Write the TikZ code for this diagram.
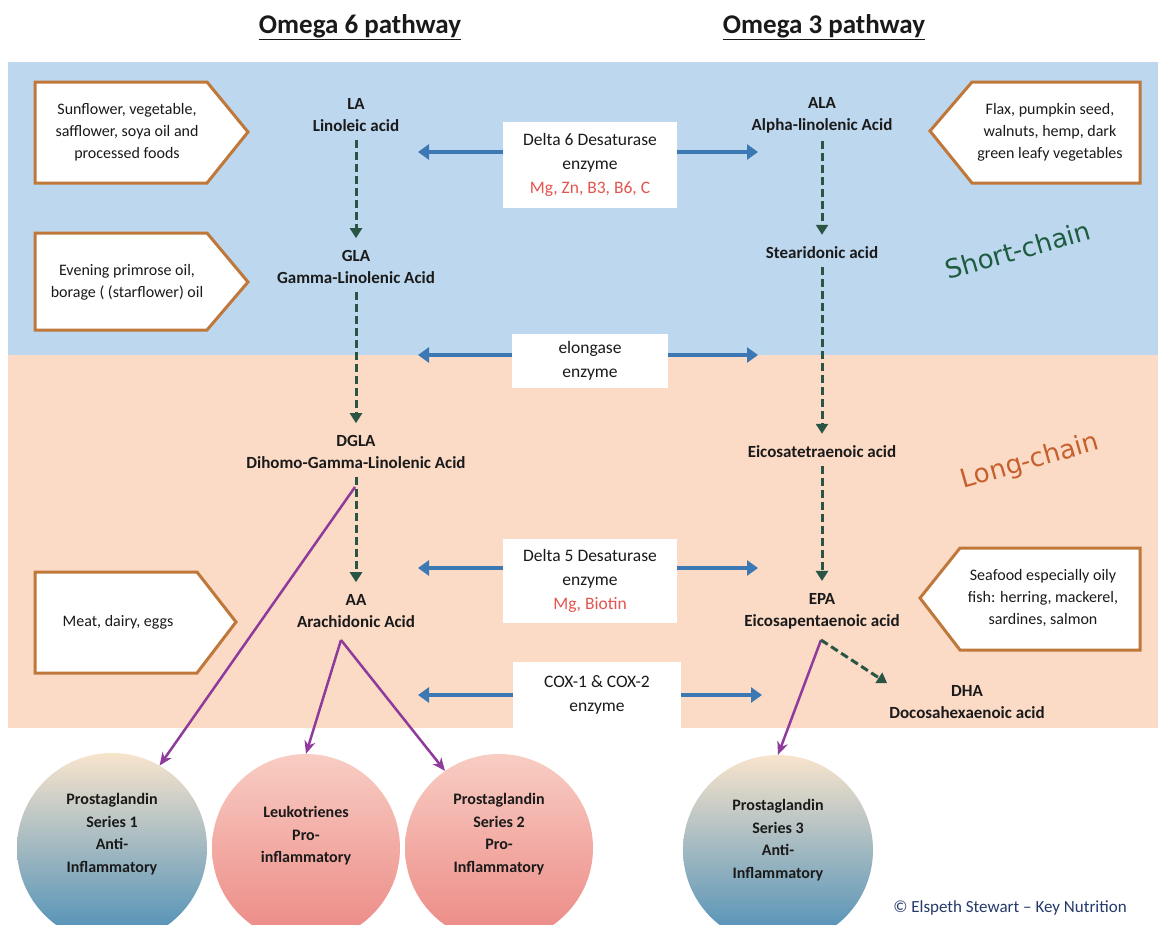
\documentclass[tikz,border=0pt]{standalone}
\usepackage{fontspec}
\setmainfont{Carlito}
\newfontfamily\chainfont{DejaVu Sans}
\usetikzlibrary{arrows.meta}
\definecolor{bandblue}{HTML}{BDD7EE}
\definecolor{bandpink}{HTML}{FBDAC6}
\definecolor{boxbrown}{HTML}{C0783A}
\definecolor{arrblue}{HTML}{3B78B4}
\definecolor{dashgreen}{HTML}{2A5545}
\definecolor{purp}{HTML}{8E3B9C}
\definecolor{cofred}{HTML}{E5544E}
\definecolor{circblue}{HTML}{4A8DB6}
\definecolor{circcream}{HTML}{F8E4CC}
\definecolor{circpinkT}{HTML}{F8CDC3}
\definecolor{circpinkB}{HTML}{EC8884}
\definecolor{chaingreen}{HTML}{1E5C40}
\definecolor{chainorange}{HTML}{C6602C}
\definecolor{copyblue}{HTML}{253A6B}
\definecolor{txt}{HTML}{1A1A1A}
\tikzset{
  acid/.style={font=\bfseries\fontsize{17}{22}\selectfont, align=center, inner sep=2pt, text=txt},
  srcbox/.style={draw=boxbrown, line width=3pt, fill=white, line join=miter},
  srctext/.style={font=\fontsize{16}{22}\selectfont, align=center, text=txt},
  enzbox/.style={fill=white, align=center, font=\fontsize{17.5}{24}\selectfont, text=txt},
  enzarrow/.style={draw=arrblue, line width=4pt, -{Triangle[length=11pt,width=15pt]}},
  convarrow/.style={draw=dashgreen, line width=3pt, dash pattern=on 8pt off 4pt, -{Triangle[length=10pt,width=12pt]}},
  purparrow/.style={draw=purp, line width=2.5pt, -{Stealth[length=13pt,width=11pt]}},
  bluecirc/.style={circle, minimum size=190pt, top color=circcream, bottom color=circblue},
  pinkcirc/.style={circle, minimum size=188pt, top color=circpinkT, bottom color=circpinkB},
  circtext/.style={align=center, font=\bfseries\fontsize{16}{22.5}\selectfont, text=txt},
  titletext/.style={font=\bfseries\fontsize{27}{32}\selectfont, text=txt},
  chain/.style={font=\chainfont\fontsize{26}{28}\selectfont, rotate=16}
}
\begin{document}
\begin{tikzpicture}[x=1pt,y=-1pt]
\useasboundingbox (0,0) rectangle (1158,924);
\fill[white] (0,0) rectangle (1158,924);
% bands
\fill[bandblue] (8,62) rectangle (1158,355);
\fill[bandpink] (8,355) rectangle (1158,728);
% titles
\node[titletext] (t6) at (360,27) {\underline{Omega 6 pathway}};
\node[titletext] (t3) at (824,27) {\underline{Omega 3 pathway}};
% source boxes
\draw[srcbox] (35,82) -- (207,82) -- (248,132) -- (207,183) -- (35,183) -- cycle;
\node[srctext] (s1) at (127,132) {Sunflower, vegetable,\\safflower, soya oil and\\processed foods};
\draw[srcbox] (35,233) -- (207,233) -- (248,282) -- (207,330) -- (35,330) -- cycle;
\node[srctext] (s2) at (127,282) {Evening primrose oil,\\borage ( (starflower) oil};
\draw[srcbox] (35,572) -- (197,572) -- (236,622) -- (197,673) -- (35,673) -- cycle;
\node[srctext] (s3) at (118,622) {Meat, dairy, eggs};
\draw[srcbox] (930,131) -- (972,82) -- (1140,82) -- (1140,183) -- (972,183) -- cycle;
\node[srctext] (s4) at (1050,132) {Flax, pumpkin seed,\\walnuts, hemp, dark\\green leafy vegetables};
\draw[srcbox] (920,598) -- (960,548) -- (1140,548) -- (1140,650) -- (960,650) -- cycle;
\node[srctext] (s5) at (1043,598) {Seafood especially oily\\fish: herring, mackerel,\\sardines, salmon};
% acids
\node[acid] (LA) at (356,115) {LA\\Linoleic acid};
\node[acid] (GLA) at (356,267) {GLA\\Gamma-Linolenic Acid};
\node[acid] (DGLA) at (356,452) {DGLA\\Dihomo-Gamma-Linolenic Acid};
\node[acid] (AA) at (356,611) {AA\\Arachidonic Acid};
\node[acid] (ALA) at (822,115) {ALA\\Alpha-linolenic Acid};
\node[acid] (SDA) at (822,253) {Stearidonic acid};
\node[acid] (ETA) at (822,452) {Eicosatetraenoic acid};
\node[acid] (EPA) at (822,611) {EPA\\Eicosapentaenoic acid};
\node[acid] (DHA) at (967,702) {DHA\\Docosahexaenoic acid};
% enzymes
\node[enzbox, minimum width=174pt, minimum height=86pt] (D6) at (590,165) {Delta 6 Desaturase\\enzyme\\\textcolor{cofred}{Mg, Zn, B3, B6, C}};
\node[enzbox, minimum width=156pt, minimum height=54pt] (EL) at (590,361) {elongase\\enzyme};
\node[enzbox, minimum width=174pt, minimum height=84pt] (D5) at (590,581) {Delta 5 Desaturase\\enzyme\\\textcolor{cofred}{Mg, Biotin}};
\node[enzbox, minimum width=168pt, minimum height=66pt] (COX) at (597,695) {COX-1 \& COX-2\\enzyme};
% enzyme arrow end points
\coordinate (d6l) at (418,152); \coordinate (d6r) at (758,152);
\coordinate (ell) at (418,355); \coordinate (elr) at (758,355);
\coordinate (d5l) at (418,568); \coordinate (d5r) at (758,568);
\coordinate (coxl) at (418,695); \coordinate (coxr) at (762,695);
\draw[enzarrow] (D6.west |- d6l) -- (d6l);
\draw[enzarrow] (D6.east |- d6r) -- (d6r);
\draw[enzarrow] (EL.west |- ell) -- (ell);
\draw[enzarrow] (EL.east |- elr) -- (elr);
\draw[enzarrow] (D5.west |- d5l) -- (d5l);
\draw[enzarrow] (D5.east |- d5r) -- (d5r);
\draw[enzarrow] (COX.west |- coxl) -- (coxl);
\draw[enzarrow] (COX.east |- coxr) -- (coxr);
% conversions
\draw[convarrow] ([yshift=-6pt]LA.south) -- ([yshift=10pt]GLA.north);
\draw[convarrow] ([yshift=-6pt]GLA.south) -- ([yshift=10pt]DGLA.north);
\draw[convarrow] ([yshift=-6pt]DGLA.south) -- ([yshift=10pt]AA.north);
\draw[convarrow] ([yshift=-6pt]ALA.south) -- ([yshift=10pt]SDA.north);
\draw[convarrow] ([yshift=-6pt]SDA.south) -- ([yshift=10pt]ETA.north);
\draw[convarrow] ([yshift=-6pt]ETA.south) -- ([yshift=10pt]EPA.north);
% circles
\node[bluecirc] (PG1) at (112,848) {};
\node[circtext] (PG1t) at (112,834) {Prostaglandin\\Series 1\\Anti-\\Inflammatory};
\node[pinkcirc] (LT) at (306,848) {};
\node[circtext] (LTt) at (306,836) {Leukotrienes\\Pro-\\inflammatory};
\node[pinkcirc] (PG2) at (499,848) {};
\node[circtext] (PG2t) at (499,834) {Prostaglandin\\Series 2\\Pro-\\Inflammatory};
\node[bluecirc] (PG3) at (778,850) {};
\node[circtext] (PG3t) at (778,840) {Prostaglandin\\Series 3\\Anti-\\Inflammatory};
% purple
\coordinate (dgo) at (355,487);
\coordinate (aao) at (341,640);
\coordinate (epo) at (821,640);
\draw[purparrow] (dgo) -- (PG1.60);
\draw[purparrow] (aao) -- (LT.north);
\draw[purparrow] (aao) -- (PG2.125);
\draw[purparrow] (epo) -- (PG3.north);
\draw[convarrow] (epo) -- (DHA.north west);
% chain labels
\node[chain, text=chaingreen] (sc) at (1018,250) {Short-chain};
\node[chain, text=chainorange] (lc) at (1030,462) {Long-chain};
% copyright
\node[font=\fontsize{17}{20}\selectfont, text=copyblue] (cr) at (1010,908) {\textcopyright{} Elspeth Stewart -- Key Nutrition};
\end{tikzpicture}
\end{document}
